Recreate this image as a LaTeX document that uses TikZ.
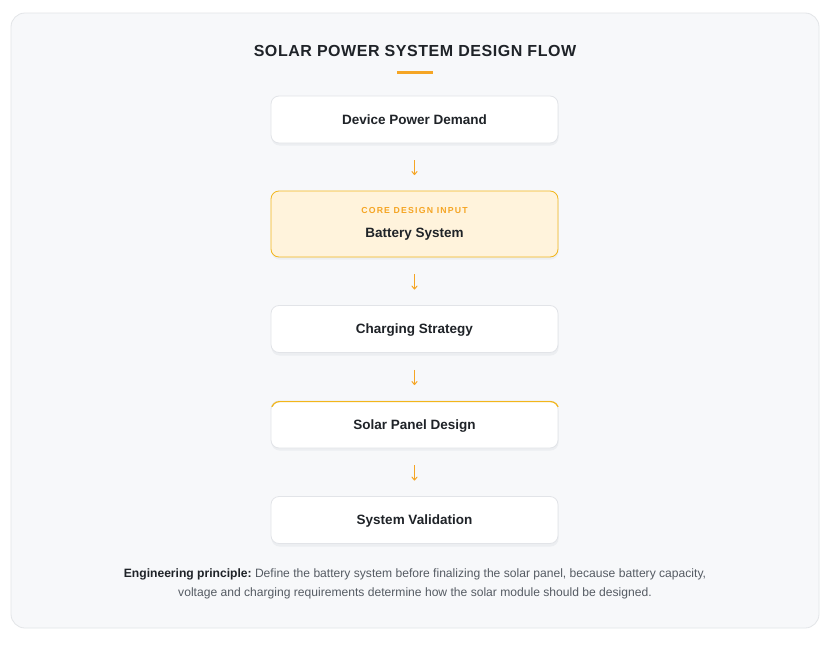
\documentclass[tikz,border=0pt]{standalone}
\usepackage{fontspec}
\usetikzlibrary{arrows.meta}
\setmainfont{Liberation Sans}
\newfontfamily\titlefont[LetterSpace=3.5]{Liberation Sans}
\newfontfamily\tagfont[LetterSpace=14]{Liberation Sans}
\definecolor{pagebg}{HTML}{F7F8FA}
\definecolor{pageborder}{HTML}{E3E5E8}
\definecolor{boxborder}{HTML}{E2E4E8}
\definecolor{accent}{HTML}{F5A524}
\definecolor{corefill}{HTML}{FFF3DC}
\definecolor{coreborder}{HTML}{F2B61C}
\definecolor{ink}{HTML}{1F2328}
\definecolor{muted}{HTML}{555B63}
\definecolor{shadowc}{HTML}{ECEEF1}
\tikzset{
  stepbox/.style={draw=boxborder, fill=white, rounded corners=8pt, line width=0.8pt,
    minimum width=287pt, minimum height=47pt, inner sep=0pt, align=center,
    text height=9.5pt, text depth=0pt,
    text=ink, font=\bfseries\fontsize{13.5}{16}\selectfont},
  flowarrow/.style={draw=accent, line width=1pt, -{To[length=4pt,width=6pt]},
    shorten <=17pt, shorten >=15.5pt},
}
\begin{document}
\begin{tikzpicture}[x=1pt,y=-1pt]
\useasboundingbox (0,0) rectangle (836,648);
\fill[white] (0,0) rectangle (836,648);
\draw[fill=pagebg, draw=pageborder, line width=0.8pt, rounded corners=14pt] (11,13) rectangle (819,628);
\node[font=\titlefont\bfseries\fontsize{16}{19}\selectfont, text=ink] (title) at (415,51) {SOLAR POWER SYSTEM DESIGN FLOW};
\fill[accent] (397,71) rectangle (433,74);
% shadows
\foreach \t/\b in {96/143,191/257,305/353,401/448,496/544}{
  \fill[shadowc, rounded corners=8pt] (271.5,\t+2) rectangle (558.5,\b+2.5);
}
\node[stepbox] (b1) at (414.5,119.5) {Device Power Demand};
\node[stepbox, fill=corefill, draw=coreborder, minimum height=66pt] (b2) at (414.5,224) {};
\node[font=\tagfont\bfseries\fontsize{8.7}{10}\selectfont, text=accent] (tag) at (414.5,211) {CORE DESIGN INPUT};
\node[font=\bfseries\fontsize{13.5}{16}\selectfont, text=ink, text height=9.5pt, text depth=0pt, inner sep=0pt] (b2t) at (414.5,232.5) {Battery System};
\node[stepbox] (b3) at (414.5,329) {Charging Strategy};
\node[stepbox] (b4) at (414.5,424.5) {Solar Panel Design};
\begin{scope}
  \clip (271,401) rectangle (559,406);
  \draw[coreborder, line width=1.2pt, rounded corners=8pt] (271.5,401.6) rectangle (558.5,448);
\end{scope}
\node[stepbox] (b5) at (414.5,520) {System Validation};
\draw[flowarrow] (b1.south) -- (b2.north);
\draw[flowarrow] (b2.south) -- (b3.north);
\draw[flowarrow] (b3.south) -- (b4.north);
\draw[flowarrow] (b4.south) -- (b5.north);
\node[font=\fontsize{12.1}{19}\selectfont, text=muted, align=center] (note) at (415,584)
  {{\color{ink}\bfseries Engineering principle:}\ Define the battery system before finalizing the solar panel, because battery capacity,\\
   voltage and charging requirements determine how the solar module should be designed.};
\end{tikzpicture}
\end{document}
